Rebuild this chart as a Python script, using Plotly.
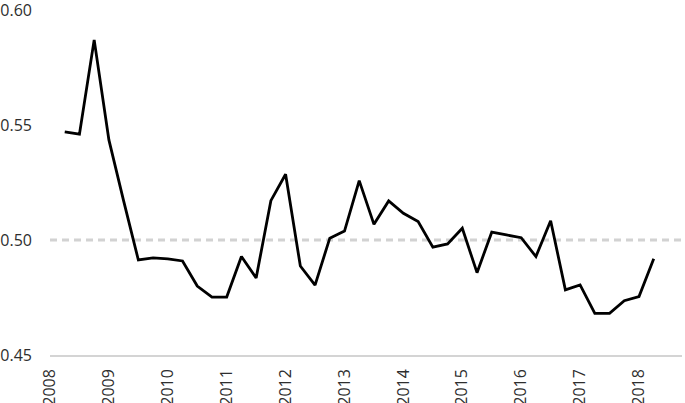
import plotly.graph_objects as go

# Quarterly observations starting 2008 Q2
periods = [2008.25 + 0.25 * i for i in range(41)]
values = [0.547, 0.546, 0.587, 0.5435, 0.517, 0.4913, 0.4922, 0.4918, 0.4909, 0.480,
          0.4752, 0.4752, 0.4928, 0.4835, 0.5171, 0.5286, 0.4887, 0.4804, 0.5008, 0.5039,
          0.5258, 0.5068, 0.517, 0.5116, 0.508, 0.4969, 0.4983, 0.5051, 0.4858, 0.5034,
          0.5022, 0.5010, 0.4928, 0.5084, 0.4783, 0.4805, 0.4681, 0.4681, 0.4736, 0.4754,
          0.4918]
year_ticks = list(range(2008, 2019))
year_labels = [str(y) for y in year_ticks]
y_ticks = [0.45, 0.50, 0.55, 0.60]
y_labels = ["0.45", "0.50", "0.55", "0.60"]
reference_level = 0.50

fig = go.Figure()
fig.add_trace(go.Scatter(x=periods, y=values, mode="lines",
                         line=dict(color="#000000", width=2.8), hoverinfo="skip"))

fig.add_shape(type="line", xref="paper", x0=0, x1=1, yref="y",
              y0=reference_level, y1=reference_level,
              line=dict(color="#d2d2d2", width=2.8, dash="7px,5px"), layer="below")

fig.update_layout(
    width=685, height=403,
    margin=dict(l=50, r=3, t=10, b=48, autoexpand=False),
    paper_bgcolor="white", plot_bgcolor="white",
    showlegend=False,
    font=dict(family="Open Sans", size=16, color="#2e2e2e"),
)
fig.update_xaxes(range=[2008, 2018.73], tickvals=year_ticks, ticktext=year_labels,
                 tickangle=-90, showgrid=False, zeroline=False,
                 showline=True, linecolor="#d4d4d4", linewidth=1.5,
                 ticks="", ticklabelstandoff=6, automargin=False,
                 ticklabeloverflow="allow")
fig.update_yaxes(range=[0.45, 0.60], tickvals=y_ticks, ticktext=y_labels,
                 showgrid=False, zeroline=False, showline=False, ticks="",
                 ticklabelstandoff=17, automargin=False,
                 ticklabeloverflow="allow")

# remove the default 8px page margin so the figure fills the window exactly
fig.write_html("out.html", config={"displayModeBar": False},
               post_script="document.body.style.margin='0px';document.body.style.overflow='hidden';")
